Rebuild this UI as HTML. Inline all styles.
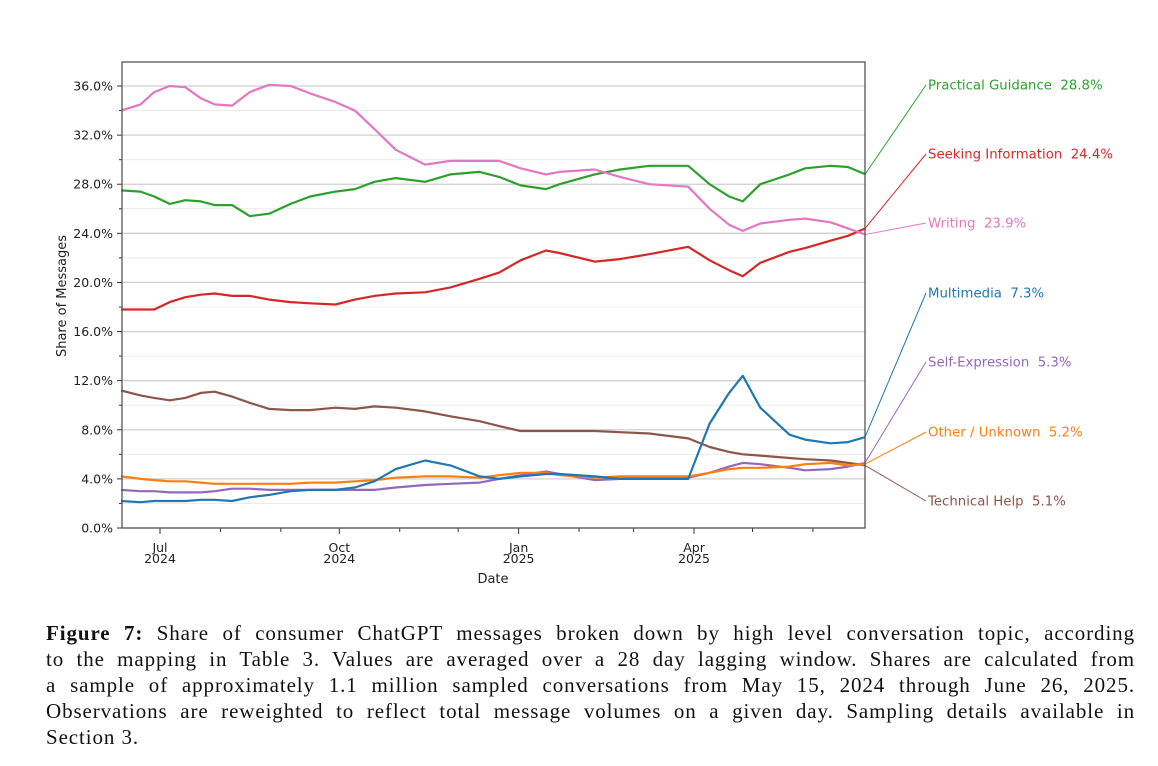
<!DOCTYPE html>
<html><head><meta charset="utf-8"><style>
body{margin:0;background:#fff;width:1158px;height:766px;overflow:hidden;position:relative}
#caption{position:absolute;left:46px;top:620px;width:1089px;font-family:"Liberation Serif",serif;font-size:21px;letter-spacing:0.9px;line-height:26px;color:#111}
#caption div{text-align:justify;text-align-last:justify;white-space:nowrap}
#caption div.last{text-align-last:left}
</style></head><body>
<svg id="chart" width="1158" height="610" style="position:absolute;left:0;top:0" font-family="DejaVu Sans, Liberation Sans, sans-serif"></svg>
<div id="caption">
<div><b>Figure 7:</b> Share of consumer ChatGPT messages broken down by high level conversation topic, according</div>
<div>to the mapping in Table 3. Values are averaged over a 28 day lagging window. Shares are calculated from</div>
<div>a sample of approximately 1.1 million sampled conversations from May 15, 2024 through June 26, 2025.</div>
<div>Observations are reweighted to reflect total message volumes on a given day. Sampling details available in</div>
<div class="last">Section 3.</div>
</div>
<script>
const dates=["2024-06-11","2024-06-21","2024-06-28","2024-07-06","2024-07-14","2024-07-22","2024-07-29","2024-08-07","2024-08-16","2024-08-26","2024-09-06","2024-09-16","2024-09-29","2024-10-09","2024-10-19","2024-10-30","2024-11-14","2024-11-27","2024-12-12","2024-12-22","2025-01-02","2025-01-15","2025-01-22","2025-02-09","2025-02-22","2025-03-09","2025-03-29","2025-04-09","2025-04-19","2025-04-26","2025-05-05","2025-05-20","2025-05-28","2025-06-10","2025-06-19","2025-06-28"];
const writing=[34.0,34.5,35.5,36.0,35.9,35.0,34.5,34.4,35.5,36.1,36.0,35.4,34.7,34.0,32.5,30.8,29.6,29.9,29.9,29.9,29.3,28.8,29.0,29.2,28.6,28.0,27.8,26.0,24.7,24.2,24.8,25.1,25.2,24.9,24.4,23.9];
const practical=[27.5,27.4,27.0,26.4,26.7,26.6,26.3,26.3,25.4,25.6,26.4,27.0,27.4,27.6,28.2,28.5,28.2,28.8,29.0,28.6,27.9,27.6,28.0,28.8,29.2,29.5,29.5,28.0,27.0,26.6,28.0,28.8,29.3,29.5,29.4,28.8];
const seeking=[17.8,17.8,17.8,18.4,18.8,19.0,19.1,18.9,18.9,18.6,18.4,18.3,18.2,18.6,18.9,19.1,19.2,19.6,20.3,20.8,21.8,22.6,22.4,21.7,21.9,22.3,22.9,21.8,21.0,20.5,21.6,22.5,22.8,23.4,23.8,24.4];
const technical=[11.2,10.8,10.6,10.4,10.6,11.0,11.1,10.7,10.2,9.7,9.6,9.6,9.8,9.7,9.9,9.8,9.5,9.1,8.7,8.3,7.9,7.9,7.9,7.9,7.8,7.7,7.3,6.6,6.2,6.0,5.9,5.7,5.6,5.5,5.3,5.1];
const multimedia=[2.2,2.1,2.2,2.2,2.2,2.3,2.3,2.2,2.5,2.7,3.0,3.1,3.1,3.3,3.8,4.8,5.5,5.1,4.2,4.0,4.2,4.4,4.4,4.2,4.0,4.0,4.0,8.5,11.0,12.4,9.8,7.6,7.2,6.9,7.0,7.4];
const selfexp=[3.1,3.0,3.0,2.9,2.9,2.9,3.0,3.2,3.2,3.1,3.1,3.1,3.1,3.1,3.1,3.3,3.5,3.6,3.7,4.0,4.3,4.6,4.4,3.9,4.0,4.1,4.1,4.5,5.0,5.3,5.2,4.9,4.7,4.8,5.0,5.3];
const other=[4.2,4.0,3.9,3.8,3.8,3.7,3.6,3.6,3.6,3.6,3.6,3.7,3.7,3.8,3.9,4.1,4.2,4.2,4.1,4.3,4.5,4.5,4.3,4.1,4.2,4.2,4.2,4.5,4.8,4.9,4.9,5.0,5.2,5.3,5.1,5.2];
const seriesNames=["Practical Guidance","Seeking Information","Writing","Multimedia","Self-Expression","Other / Unknown","Technical Help"];
const seriesFinal=["28.8%","24.4%","23.9%","7.3%","5.3%","5.2%","5.1%"];
const yTicks=[0,4,8,12,16,20,24,28,32,36];
const xTickDates=["2024-07-01","2024-10-01","2025-01-01","2025-04-01"];
const xTickLabels=["Jul","Oct","Jan","Apr"];
const xTickYears=["2024","2024","2025","2025"];
const minorDates=["2024-08-01","2024-09-01","2024-11-01","2024-12-01","2025-02-01","2025-03-01","2025-05-01","2025-06-01"];

const svg=document.getElementById('chart');
const NS='http://www.w3.org/2000/svg';
const L=122,R=865,T=62,B=528;
const d0=Date.UTC(2024,6,1);
function day(s){const p=s.split('-');return (Date.UTC(+p[0],+p[1]-1,+p[2])-d0)/864e5;}
function X(s){return 160+day(s)*1.949;}
function Y(v){return 528-v*(442/36);}
function mk(tag,attrs,name,text){const e=document.createElementNS(NS,tag);for(const k in attrs)e.setAttribute(k,attrs[k]);


if(text!==undefined)e.textContent=text;svg.appendChild(e);return e;}
for(let v=0;v<=38;v+=2){if(Y(v)<T)break;mk('line',{x1:L,x2:R,y1:Y(v),y2:Y(v),stroke:v%4==0?'#cfcfcf':'#ececec','stroke-width':v%4==0?1.3:1},'grid-line');}
yTicks.forEach(v=>{mk('line',{x1:L-5,x2:L,y1:Y(v),y2:Y(v),stroke:'#333'},'y-tick');
mk('text',{x:L-9,y:Y(v)+4.5,'text-anchor':'end','font-size':12.5,fill:'#222'},'y-tick-label',v.toFixed(1)+'%');});
for(let v=2;v<=36;v+=4)mk('line',{x1:L-3,x2:L,y1:Y(v),y2:Y(v),stroke:'#333'},'y-minor-tick');
xTickDates.forEach((d,i)=>{const x=X(d);mk('line',{x1:x,x2:x,y1:B,y2:B+6,stroke:'#333'},'x-tick');
mk('text',{x:x,y:B+24,'text-anchor':'middle','font-size':12.5,fill:'#222'},'x-tick-label',xTickLabels[i]);
mk('text',{x:x,y:B+35,'text-anchor':'middle','font-size':12.5,fill:'#222'},'x-tick-year',xTickYears[i]);});
minorDates.forEach(d=>{const x=X(d);mk('line',{x1:x,x2:x,y1:B,y2:B+4,stroke:'#333'},'x-minor-tick');});
mk('text',{x:493,y:583,'text-anchor':'middle','font-size':13,fill:'#222'},'x-axis-title','Date');
mk('text',{x:0,y:0,transform:'translate(66,296) rotate(-90)','text-anchor':'middle','font-size':13,fill:'#222'},'y-axis-title','Share of Messages');
const all=[practical,seeking,writing,multimedia,selfexp,other,technical];
const colors=['#2ca02c','#d62728','#e377c2','#1f77b4','#9467bd','#ff7f0e','#8c564b'];
const keys=['practical-guidance','seeking-information','writing','multimedia','self-expression','other-unknown','technical-help'];
const order=[6,4,5,3,1,0,2];
order.forEach(i=>{const vals=all[i];const pts=vals.map((v,j)=>X(dates[j]).toFixed(1)+','+Y(v).toFixed(1)).join(' ');
mk('polyline',{points:pts,fill:'none',stroke:colors[i],'stroke-width':2.2,'stroke-linejoin':'round'},'line-'+keys[i]);});
const labelY=[85,154,223,293,362,432,501];
all.forEach((vals,i)=>{const y0=Y(vals[vals.length-1]);
mk('line',{x1:R,y1:y0,x2:926,y2:labelY[i],stroke:colors[i],'stroke-width':1},'leader-'+keys[i]);
mk('text',{x:928,y:labelY[i]+4.5,'font-size':13.3,fill:colors[i],style:'white-space:pre'},'label-'+keys[i],seriesNames[i]+'  '+seriesFinal[i]);});
mk('rect',{x:L,y:T,width:R-L,height:B-T,fill:'none',stroke:'#555','stroke-width':1.3},'plot-frame');
</script>
</body></html>
